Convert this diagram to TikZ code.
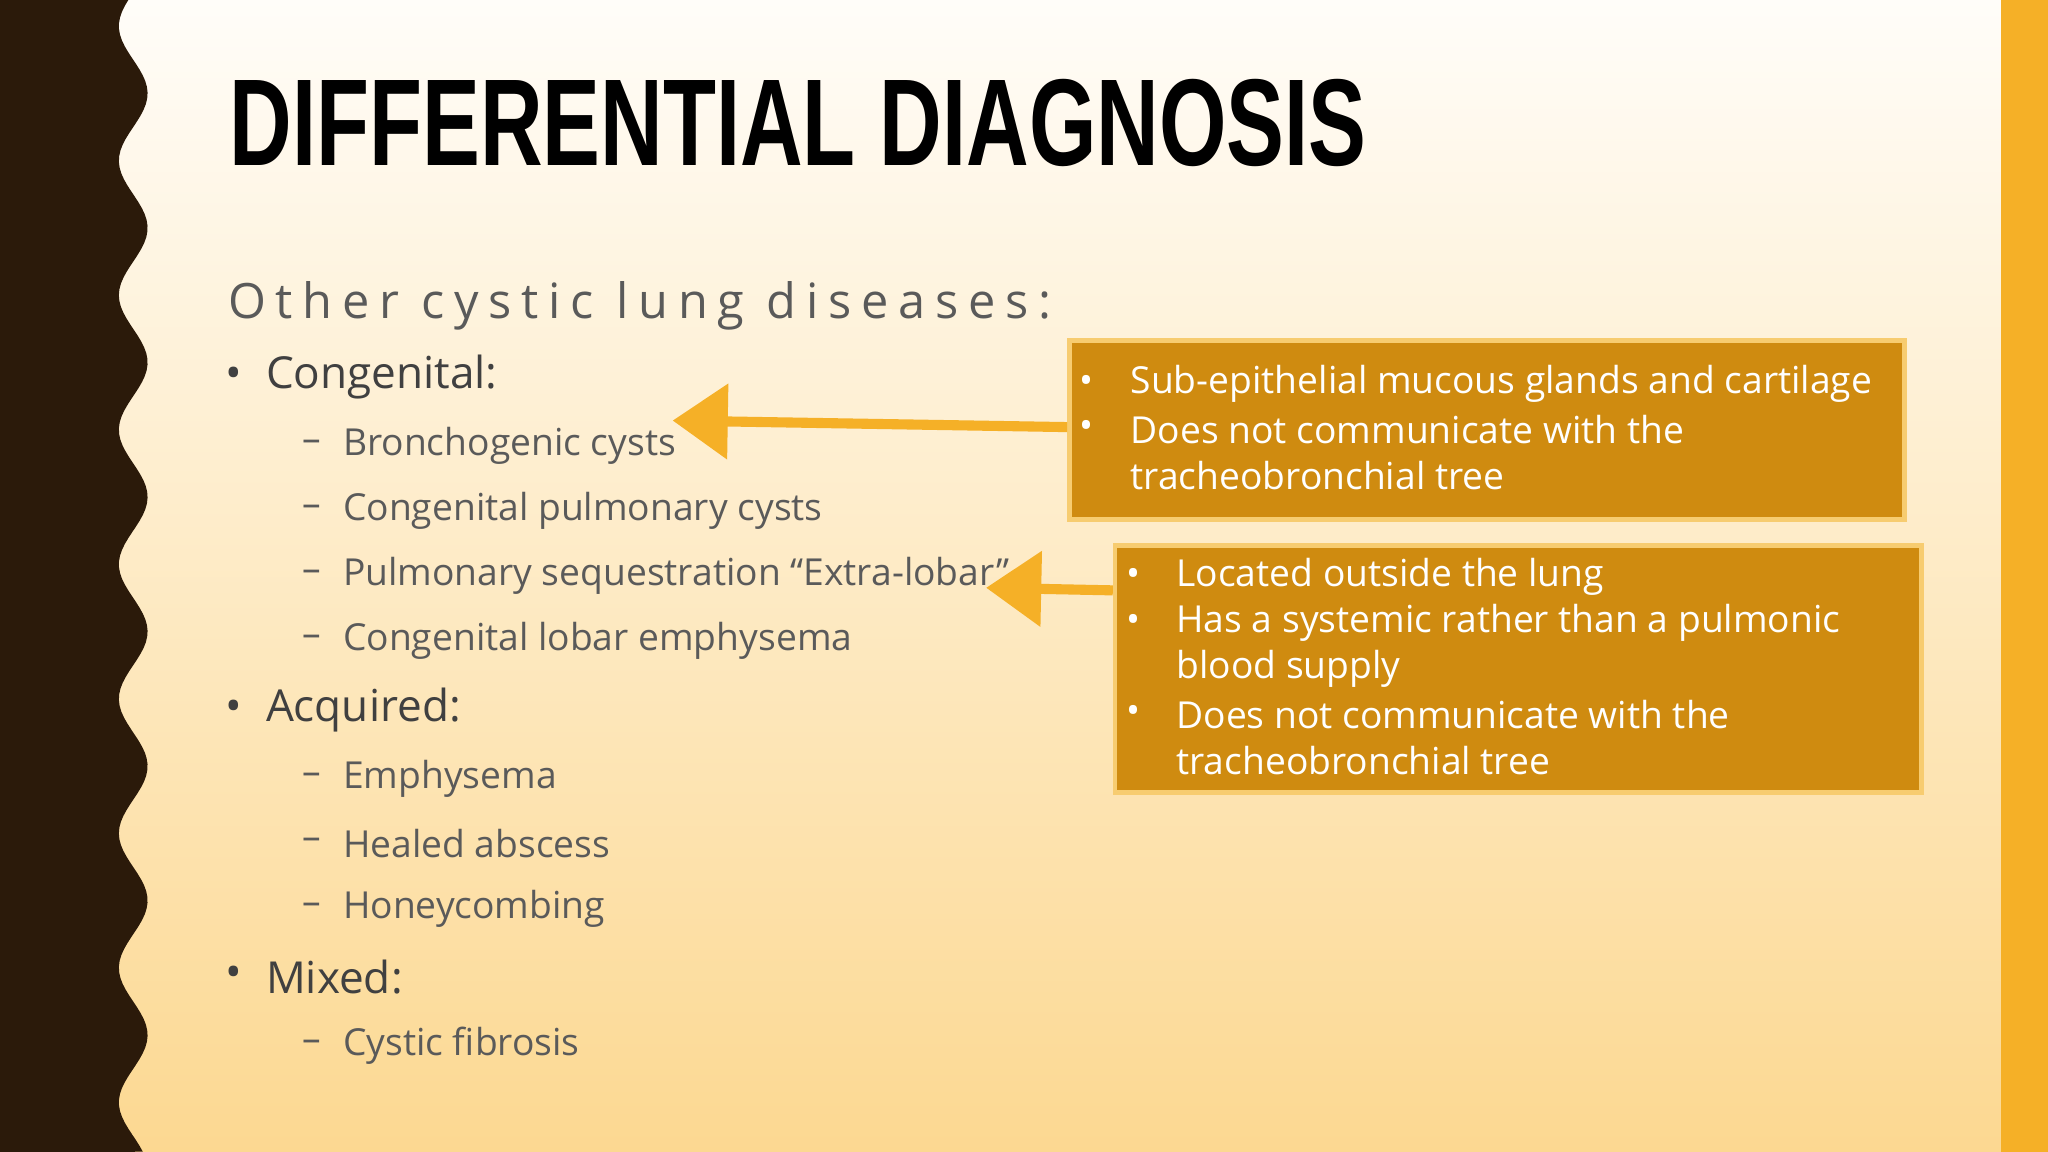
\documentclass[tikz,border=0pt]{standalone}
\usepackage{fontspec}
\setmainfont{Open Sans}
\newfontfamily\titlefont{Liberation Sans}
\usetikzlibrary{arrows.meta}
\definecolor{darkband}{HTML}{2B1A0A}
\definecolor{goldbar}{HTML}{F5B027}
\definecolor{boxfill}{HTML}{CF8B10}
\definecolor{boxline}{HTML}{F7CC70}
\definecolor{bodygray}{HTML}{5A5A5A}
\definecolor{headgray}{HTML}{404040}
\definecolor{bgtop}{HTML}{FFFDF9}
\definecolor{bgbot}{HTML}{FCD891}
\begin{document}
\begin{tikzpicture}[x=0.01cm,y=-0.01cm,
  lvlone/.style={anchor=west,inner sep=0pt,font=\fontsize{9.6}{11}\selectfont,text=headgray},
  lvltwo/.style={anchor=west,inner sep=0pt,font=\fontsize{8.1}{10}\selectfont,text=bodygray},
  boxtxt/.style={anchor=west,inner sep=0pt,font=\fontsize{8.1}{10}\selectfont,text=white},
  infobox/.style={draw=boxline,line width=1pt,fill=boxfill,inner sep=0pt},
  callout/.style={draw=goldbar,line width=2.2pt,-{Triangle[length=12pt,width=16pt]}}]
\useasboundingbox (0,0) rectangle (1568,882);
\shade[top color=bgtop,bottom color=bgbot] (0,0) rectangle (1568,882);
\fill[darkband] (0,0) -- plot[domain=0:8.82,samples=200,variable=\t] ({102+11*sin(\t*349.5+200)},{100*\t}) -- (0,882) -- cycle;
\fill[goldbar] (1532,0) rectangle (1568,882);
% title
\node[anchor=south west,inner sep=0pt] (title) at (175,128) {\resizebox{8.7cm}{0.66cm}{\titlefont\bfseries DIFFERENTIAL DIAGNOSIS}};
\node[anchor=west,inner sep=0pt,text=bodygray] (sub) at (174,234) {\fontsize{10.6}{13}\selectfont\addfontfeatures{LetterSpace=20}Other cystic lung diseases:};
% list
\node[lvlone] (b1) at (172,289) {•};
\node[lvlone] (l1) at (203,289) {Congenital:};
\foreach \n/\y/\t in {s1/341/Bronchogenic cysts,s2/391/Congenital pulmonary cysts,s3/441/{Pulmonary sequestration “Extra-lobar”},s4/491/Congenital lobar emphysema,s5/596/Emphysema,s6/646/Healed abscess,s7/696/Honeycombing,s8/801/Cystic fibrosis}{
  \node[lvltwo] (d\n) at (231,\y) {–};
  \node[lvltwo] (\n) at (262,\y) {\t};
}
\node[lvlone] (b2) at (172,544) {•};
\node[lvlone] (l2) at (203,544) {Acquired:};
\node[lvlone] (b3) at (172,748) {•};
\node[lvlone] (l3) at (203,748) {Mixed:};
% boxes
\node[infobox,minimum width=6.39cm,minimum height=1.37cm,anchor=north west] (box1) at (817,259) {};
\node[boxtxt] at (826,294) {•};
\node[boxtxt] at (865,294) {Sub-epithelial mucous glands and cartilage};
\node[boxtxt] at (826,329) {•};
\node[boxtxt] at (865,329) {Does not communicate with the};
\node[boxtxt] at (865,364) {tracheobronchial tree};
\node[infobox,minimum width=6.17cm,minimum height=1.89cm,anchor=north west] (box2) at (852,416) {};
\node[boxtxt] at (862,442) {•};
\node[boxtxt] at (900,442) {Located outside the lung};
\node[boxtxt] at (862,477) {•};
\node[boxtxt] at (900,477) {Has a systemic rather than a pulmonic};
\node[boxtxt] at (900,512) {blood supply};
\node[boxtxt] at (862,547) {•};
\node[boxtxt] at (900,547) {Does not communicate with the};
\node[boxtxt] at (900,582) {tracheobronchial tree};
% arrows
\coordinate (a1) at (515,322);
\coordinate (a2) at (755,450);
\draw[callout] (box1.west|-0,327) -- (a1);
\draw[callout] (box2.west|-0,452) -- (a2);
\end{tikzpicture}
\end{document}
